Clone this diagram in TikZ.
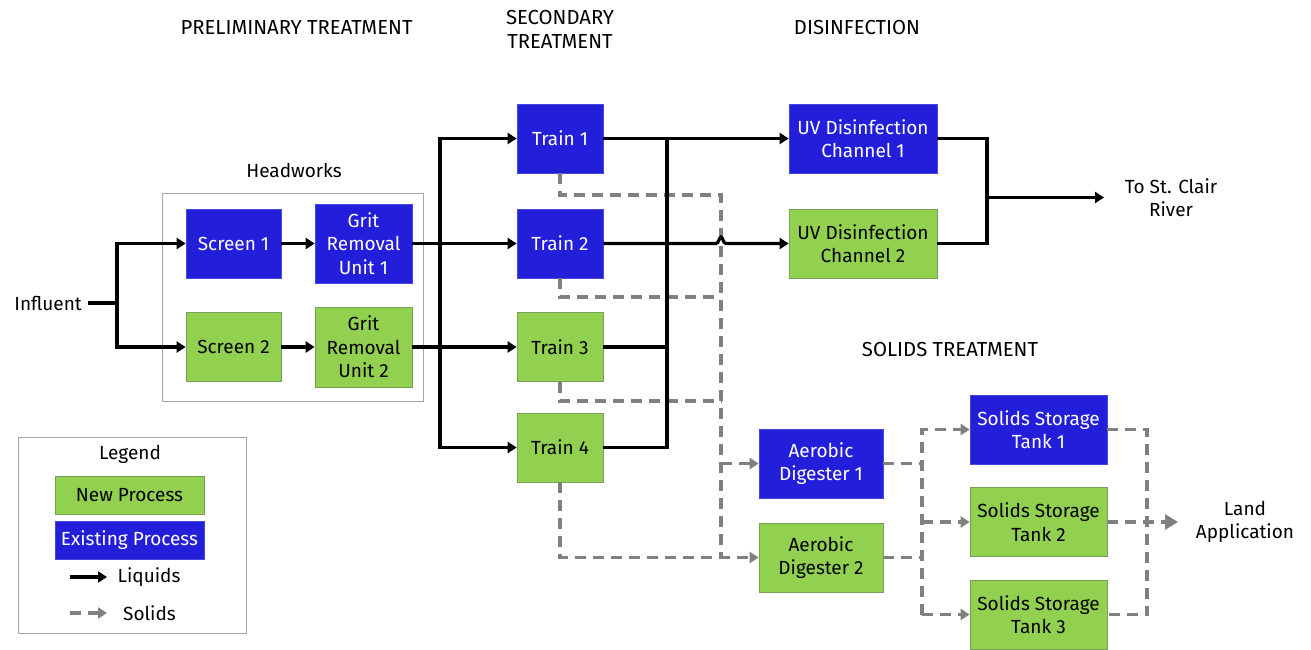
\documentclass[tikz,border=0pt]{standalone}
\usepackage{fontspec}
\setmainfont{Fira Sans}
\usetikzlibrary{arrows.meta}
\definecolor{oldblue}{RGB}{35,30,218}
\definecolor{blueedge}{RGB}{70,70,225}
\definecolor{newgreen}{RGB}{146,208,80}
\definecolor{greenedge}{RGB}{120,160,90}
\definecolor{solgray}{RGB}{128,128,128}
\definecolor{framegray}{RGB}{165,165,165}
\newcommand{\lbl}{\fontsize{19}{23.5}\selectfont}
\newcommand{\hdg}{\fontsize{20.3}{24}\selectfont}
\tikzset{
  proc/.style={rectangle, line width=0.7pt, inner sep=0pt, align=center, font=\lbl},
  newp/.style={proc, fill=newgreen, draw=greenedge, text=black},
  oldp/.style={proc, fill=oldblue, draw=blueedge, text=white},
  train/.style={minimum width=86pt, minimum height=69pt},
  uvbox/.style={minimum width=148pt, minimum height=69pt},
  digbox/.style={minimum width=124pt, minimum height=69pt},
  tankbox/.style={minimum width=137pt, minimum height=69pt},
  label/.style={font=\lbl, align=center, inner sep=0pt},
  heading/.style={font=\hdg, align=center, inner sep=0pt},
  frame/.style={draw=framegray, line width=1pt},
  liq/.style={line width=3.2pt, black},
  liqa/.style={liq, -{Triangle[length=9pt,width=11pt]}},
  sol/.style={line width=3.5pt, solgray, dash pattern=on 11pt off 7pt},
  sola/.style={sol, -{Triangle[length=9pt,width=11pt]}},
  solbig/.style={sol, -{Triangle[length=13pt,width=15pt]}},
}
\begin{document}
\begin{tikzpicture}[x=1pt,y=-1pt]
\useasboundingbox (0,0) rectangle (1311,649);

% section headings
\node[heading] (hprelim) at (296.5,28) {PRELIMINARY TREATMENT};
\node[heading] (hsecond) at (560,29) {SECONDARY\\TREATMENT};
\node[heading] (hdisinf) at (857,28) {DISINFECTION};
\node[heading] (hsolids) at (950,349) {SOLIDS TREATMENT};

% headworks enclosure
\draw[frame] (162,193) rectangle (423,401);
\node[label] (hhead) at (294,170) {Headworks};

% preliminary treatment
\node[label, anchor=east, inner sep=6pt] (infl) at (88,303) {Influent};
\node[oldp, minimum width=95pt, minimum height=69pt] (scr1) at (233.5,243.5) {Screen 1};
\node[newp, minimum width=95pt, minimum height=69pt] (scr2) at (233.5,347) {Screen 2};
\node[oldp, minimum width=97pt, minimum height=79pt] (grit1) at (363.5,243.5) {Grit\\Removal\\Unit 1};
\node[newp, minimum width=97pt, minimum height=80pt] (grit2) at (363.5,347) {Grit\\Removal\\Unit 2};

% secondary treatment
\node[oldp, train] (t1) at (560,138.5) {Train 1};
\node[oldp, train] (t2) at (560,243.5) {Train 2};
\node[newp, train] (t3) at (560,347) {Train 3};
\node[newp, train] (t4) at (560,447.5) {Train 4};

% disinfection
\node[oldp, uvbox] (uv1) at (863,138.5) {UV Disinfection\\Channel 1};
\node[newp, uvbox] (uv2) at (863,243.5) {UV Disinfection\\Channel 2};
\node[label] (river) at (1171,197.5) {To St. Clair\\River};

% solids treatment
\node[oldp, digbox] (d1) at (821,463.5) {Aerobic\\Digester 1};
\node[newp, digbox] (d2) at (821,557.5) {Aerobic\\Digester 2};
\node[oldp, tankbox] (s1) at (1038.5,429.5) {Solids Storage\\Tank 1};
\node[newp, tankbox] (s2) at (1038.5,522) {Solids Storage\\Tank 2};
\node[newp, tankbox] (s3) at (1038.5,614.5) {Solids Storage\\Tank 3};
\node[label] (land) at (1245,522) {Land\\Application};

% junction points
\coordinate (j0) at (117,303);
\coordinate (ob) at (667,447.5);
\coordinate (jm) at (987,197.5);
\coordinate (rivend) at (1104,197.5);
\coordinate (v1) at (721,195);
\coordinate (v2) at (721,297);
\coordinate (v3) at (721,401);
\coordinate (v4) at (721,557.5);
\coordinate (vd1) at (721,463.5);
\coordinate (kb) at (922,614.5);
\coordinate (lc) at (1147,522);
\coordinate (landend) at (1178,522);

% solids lines
\draw[sol] (t1.south) |- (v1) -- (v4);
\draw[sol] (t2.south) |- (v2);
\draw[sol] (t3.south) |- (v3);
\draw[sola] (t4.south) |- (d2.west);
\draw[sola] (vd1) -- (d1.west);
\draw[sol] (d1.east) -- (d1.east -| kb);
\draw[sol] (d2.east) -- (d2.east -| kb);
\draw[sola] (kb) |- (s1.west);
\draw[sola] (kb) -- (s3.west);
\draw[sola] (s2.west -| kb) -- (s2.west);
\draw[sol] (s1.east) -| (lc) |- (s3.east);
\draw[solbig] (s2.east) -- (landend);

% liquid lines
\draw[liq] (infl.east) -- (j0);
\draw[liqa] (j0) |- (scr1.west);
\draw[liqa] (j0) |- (scr2.west);
\draw[liqa] (scr1) -- (grit1);
\draw[liqa] (scr2) -- (grit2);
\draw[liqa] (grit1) -- (t2);
\draw[liqa] (grit2) -- (t3);
\draw[liq, {Triangle[length=9pt,width=11pt]}-{Triangle[length=9pt,width=11pt]}]
  (t1.west) -| (440,447.5) -- (t4.west);
\draw[liqa] (t1) -- (uv1);
\draw[liq] (t4.east) -| (ob |- t1.east);
\draw[liq] (t3.east) -- (t3.east -| ob);
\draw[liqa] (t2.east) -- (716,243.5) .. controls (719,243.5) and (719,237) .. (721,237)
  .. controls (723,237) and (723,243.5) .. (726,243.5) -- (uv2.west);
\draw[liq] (uv1.east) -| (jm) |- (uv2.east);
\draw[liqa] (jm) -- (rivend);

% legend
\draw[frame] (18,437) rectangle (246,633);
\node[label] (lgtitle) at (130,454) {Legend};
\node[newp, minimum width=149pt, minimum height=38pt] (lgnew) at (129.5,495) {New Process};
\node[oldp, minimum width=149pt, minimum height=38pt] (lgold) at (129.5,540) {Existing Process};
\coordinate (lqa) at (70,577);
\coordinate (lqb) at (107,577);
\coordinate (lsa) at (70,613);
\coordinate (lsb) at (107,613);
\node[label] (lgliq) at (149,577) {Liquids};
\node[label] (lgsol) at (149.5,613) {Solids};
\draw[liqa] (lqa) -- (lqb);
\draw[sola] (lsa) -- (lsb);
\end{tikzpicture}
\end{document}
